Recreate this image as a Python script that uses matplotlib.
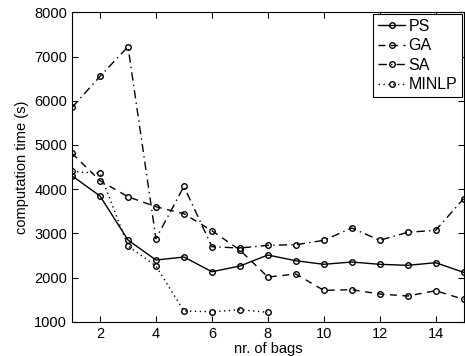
import matplotlib
matplotlib.use('Agg')
import matplotlib.pyplot as plt

plt.rcParams['font.family'] = ['Liberation Sans', 'DejaVu Sans']

bags = list(range(1, 16))
ps = [4300, 3844, 2848, 2396, 2464, 2131, 2260, 2509, 2380, 2299, 2351, 2299, 2276, 2335, 2118]
ga = [4810, 4190, 3828, 3602, 3443, 3059, 2622, 2011, 2079, 1710, 1724, 1627, 1582, 1701, 1507]
sa = [5850, 6552, 7222, 2878, 4063, 2697, 2667, 2729, 2742, 2842, 3120, 2842, 3023, 3068, 3783]
minlp_bags = [1, 2, 3, 4, 5, 6, 7, 8]
minlp = [4400, 4357, 2713, 2260, 1242, 1226, 1272, 1213]

fig = plt.figure(figsize=(4.65, 3.56), dpi=100)
ax = fig.add_axes([0.155, 0.0963, 0.842, 0.869])

mk = dict(marker='o', markersize=4, markerfacecolor='none', markeredgecolor='black',
          markeredgewidth=1, color='black', linewidth=1)
ax.plot(bags, ps, linestyle='-', label='PS', **mk)
ax.plot(bags, ga, linestyle=(0, (5, 4)), label='GA', **mk)
ax.plot(bags, sa, linestyle=(0, (6, 3, 1, 3)), label='SA', **mk)
ax.plot(minlp_bags, minlp, linestyle=(0, (1, 2.5)), label='MINLP', **mk)

ax.set_xlim(1, 15)
ax.set_ylim(1000, 8000)
ax.set_xticks([2, 4, 6, 8, 10, 12, 14])
ax.set_yticks(range(1000, 8001, 1000))
ax.tick_params(direction='in', top=True, right=True, labelsize=10.5, length=4)
ax.set_xlabel('nr. of bags', fontsize=10.5, labelpad=1)
ax.set_ylabel('computation time (s)', fontsize=10.5, labelpad=4)

leg = ax.legend(loc='upper right', fontsize=11.5, fancybox=False, framealpha=1,
                edgecolor='black', handlelength=1.7, handletextpad=0.2,
                borderaxespad=0.1, labelspacing=0.28, borderpad=0.3)
leg.get_frame().set_linewidth(0.8)

fig.savefig('out.png', dpi=100)
